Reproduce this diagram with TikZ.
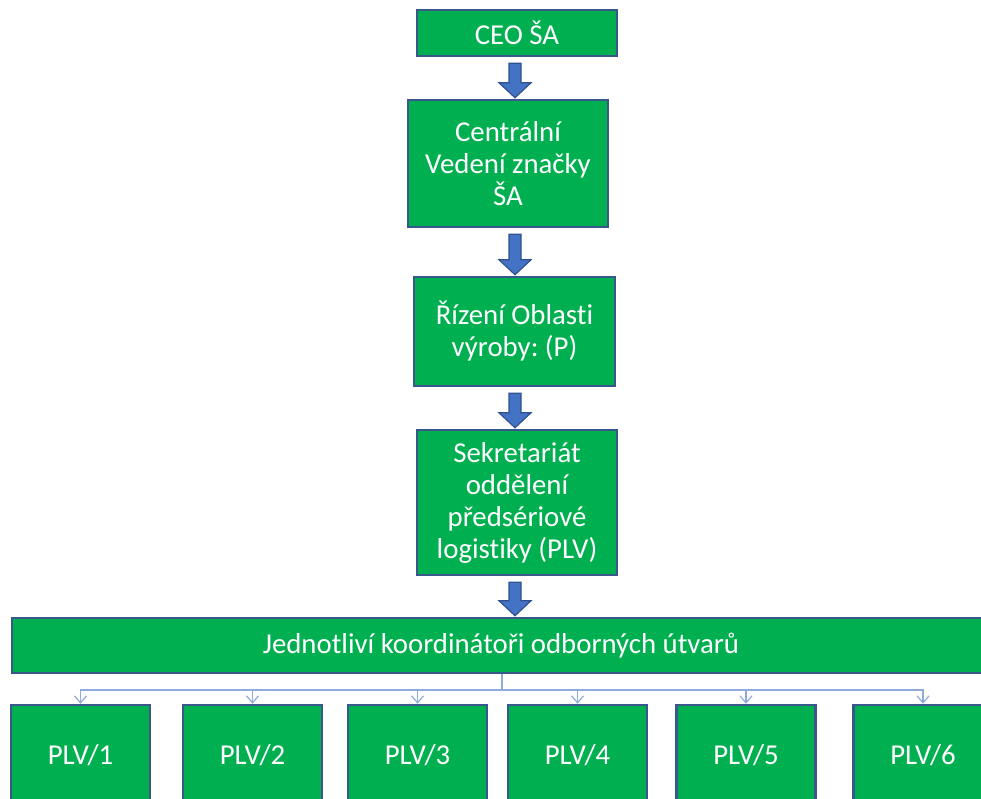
\documentclass[tikz,border=0pt]{standalone}
\usepackage{fontspec}
\setmainfont[Ligatures=NoCommon]{Carlito}
\frenchspacing
\usetikzlibrary{arrows.meta,calc}
\definecolor{boxgreen}{RGB}{0,176,80}
\definecolor{boxedge}{RGB}{56,87,138}
\definecolor{arrowfill}{RGB}{68,114,196}
\definecolor{arrowedge}{RGB}{47,82,143}
\definecolor{linkblue}{RGB}{143,170,220}
\tikzset{
  box/.style={draw=boxedge, fill=boxgreen, line width=2.5pt, text=white,
    align=center, inner sep=0pt, font=\fontsize{28.8}{32}\selectfont},
  blockarrow/.style={draw=arrowedge, fill=arrowfill, line width=1.2pt, line join=miter},
  link/.style={draw=linkblue, line width=1.2pt}
}
% block arrow between two boxes on the centre axis
\newcommand\bigarrow[2]{%
  \draw[blockarrow] ($(axis |- #1.south)+(-6,6)$) -- ($(axis |- #2.north)+(-6,-16)$)
    -- ++(-10,0) -- ($(axis |- #2.north)+(0,-1)$) -- ($(axis |- #2.north)+(16,-16)$)
    -- ++(-10,0) -- ($(axis |- #1.south)+(6,6)$) -- cycle;}
\begin{document}
\begin{tikzpicture}[x=1pt,y=-1pt]
  \useasboundingbox (0,0) rectangle (981,798);
  \clip (0,0) rectangle (981,798);
  \coordinate (axis) at (515,0);
  % chain of management boxes
  \node[box, minimum width=200pt, minimum height=46pt] (ceo) at (517,33) {CEO ŠA};
  \node[box, minimum width=200pt, minimum height=127pt] (brand) at (508,163.5) {Centrální\\Vedení značky\\ŠA};
  \node[box, minimum width=201pt, minimum height=109pt] (area) at (514.5,331.5) {Řízení Oblasti\\výroby: (P)};
  \node[box, minimum width=200pt, minimum height=145pt] (office) at (517,502.5) {Sekretariát\\oddělení\\předsériové\\logistiky (PLV)};
  \node[box, minimum width=978pt, minimum height=55pt] (coord) at (501,645.5) {Jednotliví koordinátoři odborných útvarů};
  \bigarrow{ceo}{brand}
  \bigarrow{brand}{area}
  \bigarrow{area}{office}
  \bigarrow{office}{coord}
  % departments
  \foreach \i/\x in {1/80.5,2/252.5,3/417.5,4/577.5,5/746,6/923}
    \node[box, minimum width=139pt, minimum height=100pt] (plv\i) at (\x,755) {PLV/\i};
  \coordinate (bus) at (502,690);
  \draw[link] (coord.south -| bus) -- (bus);
  \foreach \i in {1,...,6}
    \draw[link, -{Straight Barb[length=7pt,width=12pt]}] (bus) -| (plv\i.north);
\end{tikzpicture}
\end{document}
